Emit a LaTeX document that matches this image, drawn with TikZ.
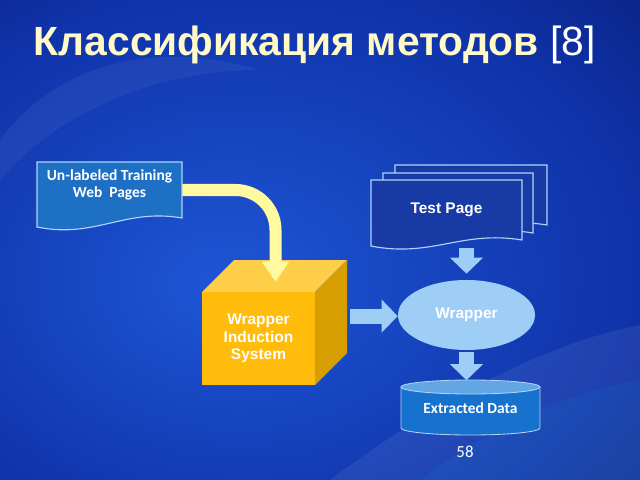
\documentclass[tikz,border=0pt]{standalone}
\usepackage{fontspec}
\setmainfont{Liberation Sans}
\newfontfamily\calfont{Carlito}
\usetikzlibrary{shapes.geometric,arrows.meta}
\definecolor{bglight}{RGB}{30,86,214}
\definecolor{bgmid}{RGB}{15,50,168}
\definecolor{bgdark}{RGB}{5,20,92}
\definecolor{titleyel}{RGB}{255,250,200}
\definecolor{docblue}{RGB}{30,112,196}
\definecolor{docline}{RGB}{175,212,250}
\definecolor{arrowyel}{RGB}{255,250,160}
\definecolor{arrowblue}{RGB}{158,205,245}
\definecolor{cubefront}{RGB}{255,188,10}
\definecolor{cubetop}{RGB}{255,206,72}
\definecolor{cubeside}{RGB}{214,158,0}
\definecolor{pageblue}{RGB}{24,58,165}
\definecolor{cylblue}{RGB}{22,114,204}
\definecolor{cyltop}{RGB}{98,166,228}
\pgfdeclareradialshading{bgshade}{\pgfpoint{-8bp}{-5bp}}{color(0bp)=(bglight); color(30bp)=(bgmid); color(55bp)=(bgdark); color(75bp)=(bgdark)}
\newcommand\docshape[5]{(#1,#2) -- (#3,#2) -- (#3,#5) .. controls ({#3-0.4*(#3-#1)},{#5-10}) and ({#1+0.4*(#3-#1)},{#4+12}) .. (#1,#4) -- cycle}
\tikzset{
  lbl/.style={text=white,font=\bfseries\fontsize{11}{12.5}\selectfont,align=center},
  callbl/.style={text=white,font=\calfont\bfseries\fontsize{11}{12}\selectfont,align=center},
  yelarrow/.style={draw=arrowyel,line width=0.3cm,rounded corners=1cm,-{Triangle[width=0.65cm,length=0.5cm]}},
  bluearrow/.style={draw=arrowblue,line width=0.375cm,-{Triangle[width=0.8cm,length=0.4cm]}}
}
\begin{document}
\begin{tikzpicture}[x=0.025cm,y=-0.025cm]
\useasboundingbox (0,0) rectangle (640,480);
\shade[shading=bgshade] (0,0) rectangle (640,480);
\fill[white,opacity=0.07] (330,480) .. controls (450,390) and (560,340) .. (640,325) -- (640,480) -- cycle;
\fill[cyan,opacity=0.08] (420,480) .. controls (500,420) and (580,390) .. (640,380) -- (640,480) -- cycle;
\fill[white,opacity=0.05] (0,140) .. controls (60,60) and (160,40) .. (260,70) .. controls (160,70) and (60,110) .. (0,180) -- cycle;
\node[anchor=base west,text=titleyel,font=\bfseries\fontsize{29}{35}\selectfont] (title) at (29,55)
  {Классификация методов \mdseries\color{white}[8]};
\filldraw[fill=docblue,draw=docline,line width=0.8pt] \docshape{37}{162}{182}{227}{218};
\node[minimum width=3.625cm,minimum height=1.4cm] (train) at (109.5,190) {};
\node[callbl] (trainlbl) at (109.5,185) {Un-labeled Training\\Web\ \ Pages};
\fill[cubefront] (202,292) rectangle (315,385);
\fill[cubetop] (202,292) -- (234,260) -- (347,260) -- (315,292) -- cycle;
\fill[cubeside] (315,292) -- (347,260) -- (347,353) -- (315,385) -- cycle;
\node[lbl,minimum width=2.825cm,minimum height=2.325cm] (wis) at (258.5,338.5) {Wrapper\\Induction\\System};
\filldraw[fill=pageblue,draw=docline,line width=0.8pt] \docshape{395}{165}{547}{230}{225};
\filldraw[fill=pageblue,draw=docline,line width=0.8pt] \docshape{383}{173}{533}{238}{233};
\filldraw[fill=pageblue,draw=docline,line width=0.8pt] \docshape{371}{180}{522}{246}{240};
\node[lbl,minimum width=3.775cm,minimum height=1.5cm] (test) at (446.5,210) {Test Page};
\node[ellipse,fill=arrowblue,lbl,inner sep=0pt,minimum width=3.425cm,minimum height=1.75cm] (wrap) at (466.5,315) {Wrapper};
\filldraw[fill=cylblue,draw=docline,line width=0.6pt] (401,387) -- (401,428) arc[start angle=180,end angle=0,x radius=69.5,y radius=7] -- (540,387) -- cycle;
\filldraw[fill=cyltop,draw=docline,line width=0.6pt] (470.5,387) ellipse[x radius=69.5,y radius=7];
\node[callbl,minimum width=3.475cm,minimum height=1.375cm] (data) at (470.5,408) {Extracted Data};
\node[text=white,font=\calfont\fontsize{12}{14}\selectfont] (page) at (465,452) {58};
\coordinate (wisout) at ([xshift=8.75mm,yshift=5.6mm]wis.east);
\draw[yelarrow] (train.east) -| ([xshift=4.25mm,yshift=2.5mm]wis.north);
\draw[bluearrow] (wisout) -- (wisout -| wrap.west);
\draw[bluearrow] ([yshift=-2mm]test.south -| wrap.north) -- ([yshift=1.5mm]wrap.north);
\draw[bluearrow] ([yshift=-0.5mm]wrap.south) -- (data.north -| wrap.south);
\end{tikzpicture}
\end{document}
